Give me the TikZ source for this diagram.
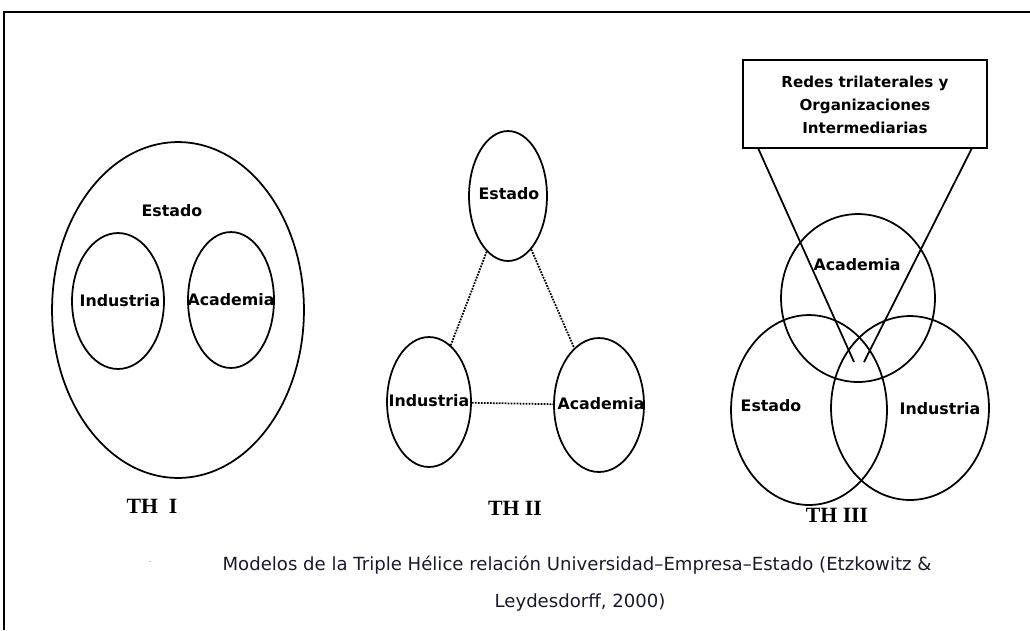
\documentclass[tikz,border=0pt]{standalone}
\usepackage{fontspec}
\setmainfont{DejaVu Sans}
\newfontfamily\thfont{Liberation Serif}
\usetikzlibrary{shapes.geometric}
\definecolor{captc}{RGB}{25,25,45}
\begin{document}
\begin{tikzpicture}[x=0.02cm,y=-0.02cm,
  ell/.style 2 args={ellipse,draw,line width=1pt,inner sep=0pt,minimum width=#1*0.04cm,minimum height=#2*0.04cm},
  lbl/.style={font=\fontsize{9}{10}\selectfont\bfseries,inner sep=0pt},
  thlbl/.style={font=\fontsize{12.4}{14}\selectfont\thfont\bfseries,inner sep=0pt},
  dotl/.style={line width=1pt,dash pattern=on 1pt off 0.7pt},
  cone/.style={line width=1pt},
  capt/.style={font=\fontsize{10.3}{12}\selectfont,text=captc,inner sep=0pt}]
\useasboundingbox (0,0) rectangle (1030,630);
% frame
\draw[line width=1.2pt] (4,630) -- (4,12) -- (1030,12);
% TH I
\node[ell={126}{168}] (est1) at (178,310) {};
\node[lbl] (est1l) at (172,211) {Estado};
\node[ell={46}{68}] (ind1) at (118,301) {};
\node[lbl] (ind1l) at (120,301) {Industria};
\node[ell={43}{68}] (aca1) at (231,300) {};
\node[lbl] (aca1l) at (231,300) {Academia};
\node[thlbl] (th1) at (152,506) {TH\ \ I};
% TH II
\node[ell={39}{65}] (est2) at (508,196) {};
\node[lbl] (est2l) at (509,194) {Estado};
\node[ell={42}{65}] (ind2) at (429,402) {};
\node[lbl] (ind2l) at (429,401) {Industria};
\node[ell={45}{67}] (aca2) at (599,405) {};
\node[lbl] (aca2l) at (601,404) {Academia};
\draw[dotl] (est2) -- (ind2);
\draw[dotl] (est2) -- (aca2);
\draw[dotl] (ind2) -- (aca2);
\node[thlbl] (th2) at (515,508) {TH II};
% TH III
\node[draw,line width=1pt,minimum width=244*0.02cm,minimum height=88*0.02cm,inner sep=0pt] (box) at (865,104) {};
\node[lbl,align=center,font=\fontsize{8.6}{13}\selectfont\bfseries] (boxt) at (865,105) {Redes trilaterales y\\Organizaciones\\Intermediarias};
\coordinate (bl) at (758,148);
\coordinate (br) at (972,148);
\coordinate (tl) at (854,362);
\coordinate (tr) at (864,362);
\node[ell={78}{95}] (est3) at (809,410) {};
\node[ell={79}{92}] (ind3) at (910,408) {};
\node[ell={77}{84}] (aca3) at (858,298) {};
\draw[cone] (bl) -- (tl);
\draw[cone] (br) -- (tr);
\node[lbl] (aca3l) at (857,265) {Academia};
\node[lbl] (est3l) at (771,406) {Estado};
\node[lbl] (ind3l) at (940,409) {Industria};
\node[thlbl] (th3) at (837,515) {TH III};
% caption
\node[font=\tiny,text=gray,inner sep=0pt] (dot) at (150,562) {.};
\node[capt] (cap1) at (577,565) {Modelos de la Triple Hélice relación Universidad–Empresa–Estado (Etzkowitz \&};
\node[capt] (cap2) at (580,602) {Leydesdorff, 2000)};
\end{tikzpicture}
\end{document}
